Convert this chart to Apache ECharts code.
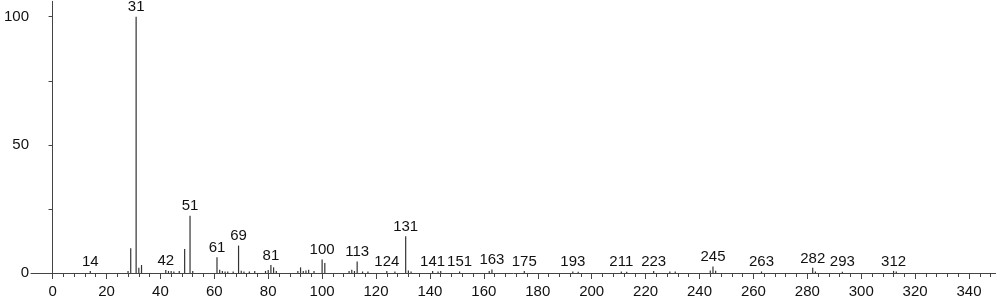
<!DOCTYPE html>
<html>
<head>
<meta charset="utf-8">
<script src="https://cdn.jsdelivr.net/npm/echarts@6/dist/echarts.min.js"></script>
<style>html,body{margin:0;padding:0;background:#fff}#c{width:996px;height:299px}</style>
</head>
<body>
<div id="c"></div>
<script>
var mz = [14,28,29,31,32,33,42,43,44,45,47,49,51,52,61,62,63,64,65,67,69,70,71,73,75,79,80,81,82,83,91,92,93,94,95,97,100,101,110,111,112,113,115,117,124,127,131,132,133,141,143,144,151,162,163,175,193,195,211,213,223,229,231,244,245,246,263,282,283,293,312,313];
var intensity = [0.8,0.8,9.7,100,2.0,3.1,1.2,0.8,0.8,0.6,0.8,9.4,22.3,0.8,6.1,1.3,0.8,0.6,0.6,0.6,10.7,0.9,0.6,0.6,0.8,0.8,1.2,3.1,2.2,0.8,0.8,2.2,0.8,1.0,1.3,0.8,5.3,3.9,0.8,1.3,0.8,4.5,0.6,0.6,0.8,0.6,14.3,1.0,0.6,0.8,0.6,0.8,0.6,0.8,1.4,0.8,0.6,0.5,0.6,0.5,0.8,0.6,0.6,1.0,2.5,0.9,0.6,2.0,0.6,0.5,0.8,0.6];
var labelledPeaks = [14,31,42,51,61,69,81,100,113,124,131,141,151,163,175,193,211,223,245,263,282,293,312];
var xMajorTicks = [0,20,40,60,80,100,120,140,160,180,200,220,240,260,280,300,320,340];
var xMinorTicks = [];
for (var t = 0; t <= 348; t += 4) xMinorTicks.push(t);
var yTicks = [0,25,50,75,100];
var yLabels = [0,50,100];

var FONT = 'Liberation Sans, Arial, sans-serif';
var data = mz.map(function (m, i) {
  var item = { value: [m, intensity[i]] };
  if (labelledPeaks.indexOf(m) >= 0) {
    item.label = { show: true, position: 'top', distance: 2, formatter: String(m),
      fontSize: 15, fontFamily: FONT, color: '#111' };
  }
  return item;
});

var chart = echarts.init(document.getElementById('c'), null, { renderer: 'canvas' });
chart.setOption({
  animation: false,
  backgroundColor: '#fff',
  grid: { left: 31, top: 1.3, width: 968.3, height: 272.7, containLabel: false },
  xAxis: [{
    type: 'value', min: -8, max: 350, position: 'bottom',
    axisLine: { show: true, onZero: false, lineStyle: { color: '#444', width: 1 } },
    axisTick: { show: true, length: 4, customValues: xMinorTicks, lineStyle: { color: '#444' } },
    axisLabel: { show: false },
    splitLine: { show: false }
  }, {
    type: 'value', min: -8, max: 350, position: 'bottom',
    axisLine: { show: false },
    axisTick: { show: true, length: 6, customValues: xMajorTicks, lineStyle: { color: '#444' } },
    axisLabel: { show: true, customValues: xMajorTicks, margin: 11, fontSize: 15, fontFamily: FONT, color: '#111' },
    splitLine: { show: false }
  }],
  yAxis: {
    type: 'value', min: 0, max: 106,
    axisLine: { show: true, lineStyle: { color: '#444', width: 1 } },
    axisTick: { show: true, length: 4, customValues: yTicks, lineStyle: { color: '#444' } },
    axisLabel: { show: true, customValues: yLabels, margin: 2, fontSize: 15, fontFamily: FONT, color: '#111' },
    splitLine: { show: false }
  },
  series: [{
    type: 'bar', xAxisIndex: 0, yAxisIndex: 0,
    barWidth: 1.2, itemStyle: { color: '#333' },
    data: data
  }]
});
</script>
</body>
</html>
